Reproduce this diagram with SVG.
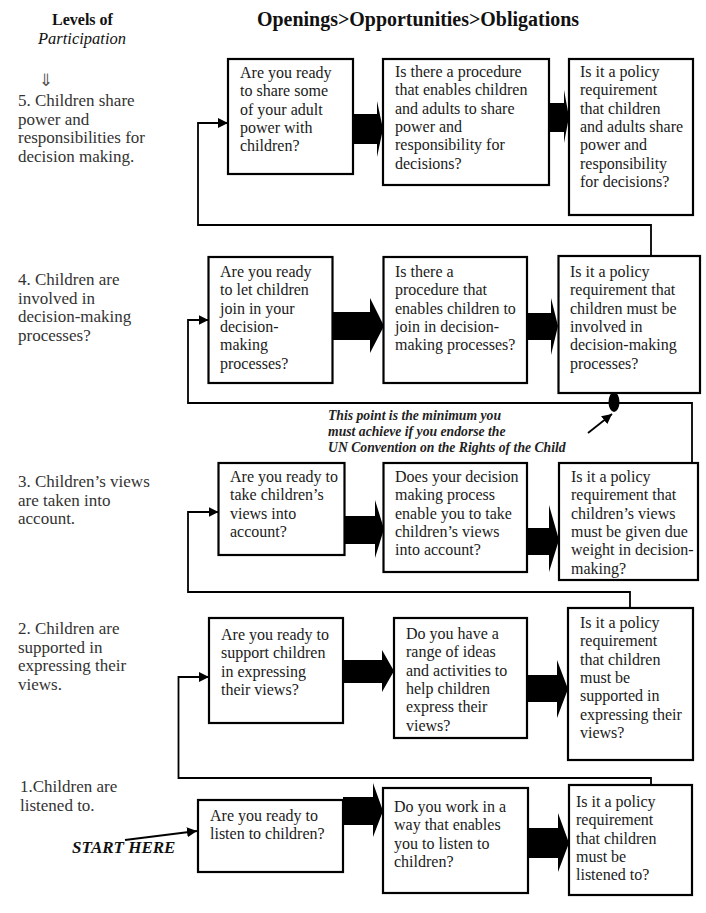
<svg xmlns="http://www.w3.org/2000/svg" width="706" height="913" viewBox="0 0 706 913">
<style>
.bg{fill:#fff}
.box{fill:#fff;stroke:#000;stroke-width:2.2}
.t{font-family:"Liberation Serif","Times New Roman",serif;font-size:16px;fill:#1a1a1a}
.lbl{font-family:"Liberation Serif","Times New Roman",serif;font-size:17px;fill:#333}
.hdr{font-family:"Liberation Serif","Times New Roman",serif;font-weight:bold;fill:#111}
.note{font-family:"Liberation Serif","Times New Roman",serif;font-size:13.7px;font-weight:bold;font-style:italic;fill:#222}
.conn{fill:none;stroke:#000;stroke-width:1.8}
.thick{fill:#000}
</style>
<defs>
<marker id="ah" markerUnits="userSpaceOnUse" markerWidth="11" markerHeight="11" refX="10" refY="5" orient="auto">
<path d="M0,0 L10,5 L0,10 z" fill="#000"/>
</marker>
</defs>
<rect class="bg" x="0" y="0" width="706" height="913"/>

<g id="header">
<text class="hdr" x="52" y="25" font-size="16">Levels of</text>
<text x="38" y="44" font-family="Liberation Serif, Times New Roman, serif" font-size="16.5" font-style="italic" fill="#111">Participation</text>
<text class="hdr" x="257" y="26" font-size="20" textLength="322" lengthAdjust="spacingAndGlyphs">Openings&gt;Opportunities&gt;Obligations</text>
</g>

<g id="levels">
<text x="39" y="86" font-family="DejaVu Sans, sans-serif" font-size="17" fill="#555">⇓</text>
<text class="lbl" x="18" y="106"><tspan x="18">5. Children share</tspan><tspan x="18" dy="18.5">power and</tspan><tspan x="18" dy="18.5">responsibilities for</tspan><tspan x="18" dy="18.5">decision making.</tspan></text>
<text class="lbl" x="18" y="285"><tspan x="18">4. Children are</tspan><tspan x="18" dy="18.5">involved in</tspan><tspan x="18" dy="18.5">decision-making</tspan><tspan x="18" dy="18.5">processes?</tspan></text>
<text class="lbl" x="18" y="487"><tspan x="18">3. Children’s views</tspan><tspan x="18" dy="18.5">are taken into</tspan><tspan x="18" dy="18.5">account.</tspan></text>
<text class="lbl" x="18" y="634"><tspan x="18">2. Children are</tspan><tspan x="18" dy="18.5">supported in</tspan><tspan x="18" dy="18.5">expressing their</tspan><tspan x="18" dy="18.5">views.</tspan></text>
<text class="lbl" x="20" y="792"><tspan x="20">1.Children are</tspan><tspan x="20" dy="18.5">listened to.</tspan></text>
</g>

<g id="connectors">
<polyline class="conn" points="651,256 651,225 198,225 198,123 228,123" marker-end="url(#ah)"/>
<polyline class="conn" points="692,463 692,403 188,403 188,320 208.5,320" marker-end="url(#ah)"/>
<polyline class="conn" points="630,608 630,592 188,592 188,512 218.5,512" marker-end="url(#ah)"/>
<polyline class="conn" points="651,785 651,778 178.5,778 178.5,677 209,677" marker-end="url(#ah)"/>
<line class="conn" x1="125" y1="840" x2="197" y2="831" stroke-width="2" marker-end="url(#ah)"/>
<line class="conn" x1="588" y1="433" x2="612" y2="414" stroke-width="2" marker-end="url(#ah)"/>
<ellipse cx="614" cy="402" rx="5.5" ry="10" fill="#000"/>
<polygon class="thick" points="353,114 377,114 377,101 383,129 377,157 377,144 353,144"/>
<polygon class="thick" points="549,103 564,103 564,90 569,117 564,143 564,132 549,132"/>
<polygon class="thick" points="333,312 370,312 370,298 384,326 370,353 370,340 333,340"/>
<polygon class="thick" points="527,313 551,313 551,298 558,326 551,355 551,340 527,340"/>
<polygon class="thick" points="344,516 375,516 375,500 384,529 375,558 375,544 344,544"/>
<polygon class="thick" points="527,528 549,528 549,505 559,540 549,572 549,555 527,555"/>
<polygon class="thick" points="343,660 382,660 382,650 394,671 382,692 382,683 343,683"/>
<polygon class="thick" points="527,675 557,675 557,660 568,689 557,718 557,702 527,702"/>
<polygon class="thick" points="343,797 373,797 373,783 383,811 373,837 373,825 343,825"/>
<polygon class="thick" points="528,828 558,828 558,813 569,843 558,872 558,858 528,858"/>
</g>

<g id="note">
<text class="note" x="328" y="420">This point is the minimum you</text>
<text class="note" x="328" y="436">must achieve if you endorse the</text>
<text class="note" x="328" y="452">UN Convention on the Rights of the Child</text>
</g>

<g id="start">
<text x="72" y="853" font-family="Liberation Serif, Times New Roman, serif" font-size="17" font-weight="bold" font-style="italic" fill="#111">START HERE</text>
</g>

<g id="n5a"><rect class="box" x="228" y="59" width="125" height="115"/>
<text class="t" y="78"><tspan x="240">Are you ready</tspan><tspan x="240" dy="18.3">to share some</tspan><tspan x="240" dy="18.3">of your adult</tspan><tspan x="240" dy="18.3">power with</tspan><tspan x="240" dy="18.3">children?</tspan></text></g>
<g id="n5b"><rect class="box" x="383" y="59" width="166" height="126"/>
<text class="t" y="77"><tspan x="395">Is there a procedure</tspan><tspan x="395" dy="18.3">that enables children</tspan><tspan x="395" dy="18.3">and adults to share</tspan><tspan x="395" dy="18.3">power and</tspan><tspan x="395" dy="18.3">responsibility for</tspan><tspan x="395" dy="18.3">decisions?</tspan></text></g>
<g id="n5c"><rect class="box" x="569" y="59" width="124" height="156"/>
<text class="t" y="77"><tspan x="580">Is it a policy</tspan><tspan x="580" dy="18.3">requirement</tspan><tspan x="580" dy="18.3">that children</tspan><tspan x="580" dy="18.3">and adults share</tspan><tspan x="580" dy="18.3">power and</tspan><tspan x="580" dy="18.3">responsibility</tspan><tspan x="580" dy="18.3">for decisions?</tspan></text></g>

<g id="n4a"><rect class="box" x="208.5" y="257" width="124" height="126"/>
<text class="t" y="277"><tspan x="220">Are you ready</tspan><tspan x="220" dy="18.3">to let children</tspan><tspan x="220" dy="18.3">join in your</tspan><tspan x="220" dy="18.3">decision-</tspan><tspan x="220" dy="18.3">making</tspan><tspan x="220" dy="18.3">processes?</tspan></text></g>
<g id="n4b"><rect class="box" x="383.5" y="257" width="143.5" height="126"/>
<text class="t" y="277"><tspan x="395">Is there a</tspan><tspan x="395" dy="18.3">procedure that</tspan><tspan x="395" dy="18.3">enables children to</tspan><tspan x="395" dy="18.3">join in decision-</tspan><tspan x="395" dy="18.3">making processes?</tspan></text></g>
<g id="n4c"><rect class="box" x="558.5" y="256" width="141.5" height="137"/>
<text class="t" y="277"><tspan x="570">Is it a policy</tspan><tspan x="570" dy="18.3">requirement that</tspan><tspan x="570" dy="18.3">children must be</tspan><tspan x="570" dy="18.3">involved in</tspan><tspan x="570" dy="18.3">decision-making</tspan><tspan x="570" dy="18.3">processes?</tspan></text></g>

<g id="n3a"><rect class="box" x="218.5" y="463" width="126" height="92"/>
<text class="t" y="482"><tspan x="230">Are you ready to</tspan><tspan x="230" dy="18.3">take children’s</tspan><tspan x="230" dy="18.3">views into</tspan><tspan x="230" dy="18.3">account?</tspan></text></g>
<g id="n3b"><rect class="box" x="383.5" y="463" width="143.5" height="109"/>
<text class="t" y="482"><tspan x="395">Does your decision</tspan><tspan x="395" dy="18.3">making process</tspan><tspan x="395" dy="18.3">enable you to take</tspan><tspan x="395" dy="18.3">children’s views</tspan><tspan x="395" dy="18.3">into account?</tspan></text></g>
<g id="n3c"><rect class="box" x="559" y="463" width="139" height="117"/>
<text class="t" y="482"><tspan x="571">Is it a policy</tspan><tspan x="571" dy="18.3">requirement that</tspan><tspan x="571" dy="18.3">children’s views</tspan><tspan x="571" dy="18.3">must be given due</tspan><tspan x="571" dy="18.3">weight in decision-</tspan><tspan x="571" dy="18.3">making?</tspan></text></g>

<g id="n2a"><rect class="box" x="209" y="618" width="134" height="105"/>
<text class="t" y="640"><tspan x="221">Are you ready to</tspan><tspan x="221" dy="18.3">support children</tspan><tspan x="221" dy="18.3">in expressing</tspan><tspan x="221" dy="18.3">their views?</tspan></text></g>
<g id="n2b"><rect class="box" x="394" y="618" width="133" height="120"/>
<text class="t" y="639"><tspan x="406">Do you have a</tspan><tspan x="406" dy="18.3">range of ideas</tspan><tspan x="406" dy="18.3">and activities to</tspan><tspan x="406" dy="18.3">help children</tspan><tspan x="406" dy="18.3">express their</tspan><tspan x="406" dy="18.3">views?</tspan></text></g>
<g id="n2c"><rect class="box" x="568" y="608" width="125" height="152"/>
<text class="t" y="628"><tspan x="580">Is it a policy</tspan><tspan x="580" dy="18.3">requirement</tspan><tspan x="580" dy="18.3">that children</tspan><tspan x="580" dy="18.3">must be</tspan><tspan x="580" dy="18.3">supported in</tspan><tspan x="580" dy="18.3">expressing their</tspan><tspan x="580" dy="18.3">views?</tspan></text></g>

<g id="n1a"><rect class="box" x="198" y="800" width="145" height="72"/>
<text class="t" y="821"><tspan x="210">Are you ready to</tspan><tspan x="210" dy="18.3">listen to children?</tspan></text></g>
<g id="n1b"><rect class="box" x="383" y="788" width="145" height="105"/>
<text class="t" y="812"><tspan x="394">Do you work in a</tspan><tspan x="394" dy="18.3">way that enables</tspan><tspan x="394" dy="18.3">you to listen to</tspan><tspan x="394" dy="18.3">children?</tspan></text></g>
<g id="n1c"><rect class="box" x="569" y="785" width="123" height="110"/>
<text class="t" y="807"><tspan x="576">Is it a policy</tspan><tspan x="576" dy="18.3">requirement</tspan><tspan x="576" dy="18.3">that children</tspan><tspan x="576" dy="18.3">must be</tspan><tspan x="576" dy="18.3">listened to?</tspan></text></g>
</svg>
